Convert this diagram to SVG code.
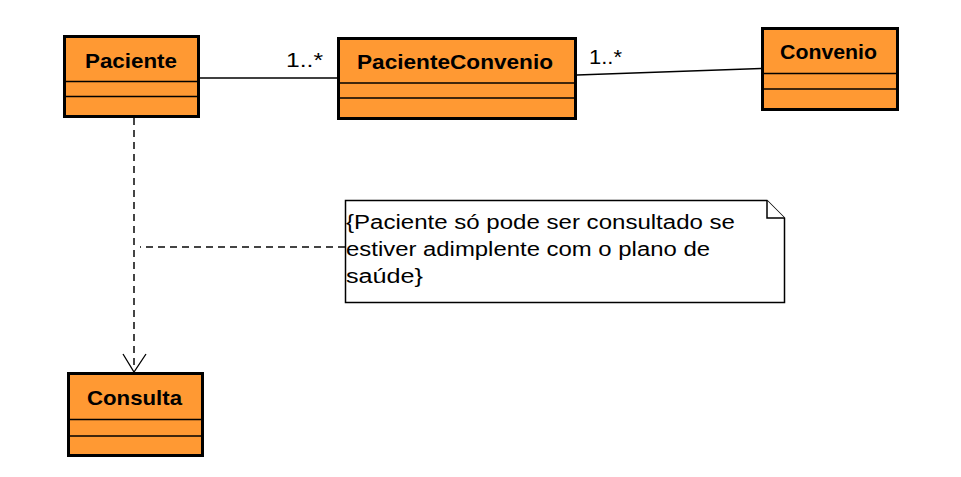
<svg xmlns="http://www.w3.org/2000/svg" width="961" height="477" viewBox="0 0 961 477">
<style>
.box{fill:#ff9933;stroke:#000;stroke-width:3}
.div{stroke:#000;stroke-width:1.5}
.cls{font-family:"Liberation Sans",Arial,sans-serif;font-weight:bold;font-size:21px;fill:#000}
.txt{font-family:"Liberation Sans",Arial,sans-serif;font-size:20px;fill:#000}
.assoc{stroke:#000;stroke-width:1.3;fill:none}
.dash{stroke:#444;stroke-width:2;stroke-dasharray:7 5;fill:none}
.note{fill:#fff;stroke:#000;stroke-width:1.5}
</style>
<rect width="961" height="477" fill="#fff"/>
<g id="connectors">
<line class="assoc" x1="200" y1="78" x2="337" y2="78"/>
<line class="assoc" x1="577" y1="75" x2="761" y2="68.5"/>
<text class="txt" x="286" y="67" textLength="37" lengthAdjust="spacingAndGlyphs">1..*</text>
<text class="txt" x="589" y="64" textLength="33" lengthAdjust="spacingAndGlyphs">1..*</text>
<line class="dash" x1="134" y1="118" x2="134" y2="370"/>
<polyline class="assoc" stroke-width="1.8" points="123,354 134,372 146,354"/>
<line class="dash" x1="345" y1="247" x2="140" y2="247"/>
</g>
<g id="Paciente">
<rect class="box" x="64.5" y="36.5" width="134" height="80"/>
<line class="div" x1="64.5" y1="81.5" x2="198.5" y2="81.5"/>
<line class="div" x1="64.5" y1="96.5" x2="198.5" y2="96.5"/>
<text class="cls" x="85" y="68" textLength="92" lengthAdjust="spacingAndGlyphs">Paciente</text>
</g>
<g id="PacienteConvenio">
<rect class="box" x="338.5" y="38.5" width="237" height="80"/>
<line class="div" x1="338.5" y1="83" x2="575.5" y2="83"/>
<line class="div" x1="338.5" y1="98" x2="575.5" y2="98"/>
<text class="cls" x="357" y="69" textLength="196" lengthAdjust="spacingAndGlyphs">PacienteConvenio</text>
</g>
<g id="Convenio">
<rect class="box" x="762.5" y="28.5" width="135" height="81"/>
<line class="div" x1="762.5" y1="73.5" x2="897.5" y2="73.5"/>
<line class="div" x1="762.5" y1="89" x2="897.5" y2="89"/>
<text class="cls" x="780" y="59" textLength="97" lengthAdjust="spacingAndGlyphs">Convenio</text>
</g>
<g id="Consulta">
<rect class="box" x="68.5" y="373.5" width="134" height="82"/>
<line class="div" x1="68.5" y1="419.5" x2="202.5" y2="419.5"/>
<line class="div" x1="68.5" y1="436" x2="202.5" y2="436"/>
<text class="cls" x="87" y="405" textLength="95" lengthAdjust="spacingAndGlyphs">Consulta</text>
</g>
<g id="Note">
<polygon class="note" points="345.5,200.5 767,200.5 784.5,218 784.5,302.5 345.5,302.5"/>
<polyline class="note" fill="none" points="767,200.5 767,218 784.5,218"/>
<text class="txt" x="346" y="229" textLength="389" lengthAdjust="spacingAndGlyphs">{Paciente só pode ser consultado se</text>
<text class="txt" x="346" y="256" textLength="364" lengthAdjust="spacingAndGlyphs">estiver adimplente com o plano de</text>
<text class="txt" x="346" y="283" textLength="77" lengthAdjust="spacingAndGlyphs">saúde}</text>
</g>
</svg>
